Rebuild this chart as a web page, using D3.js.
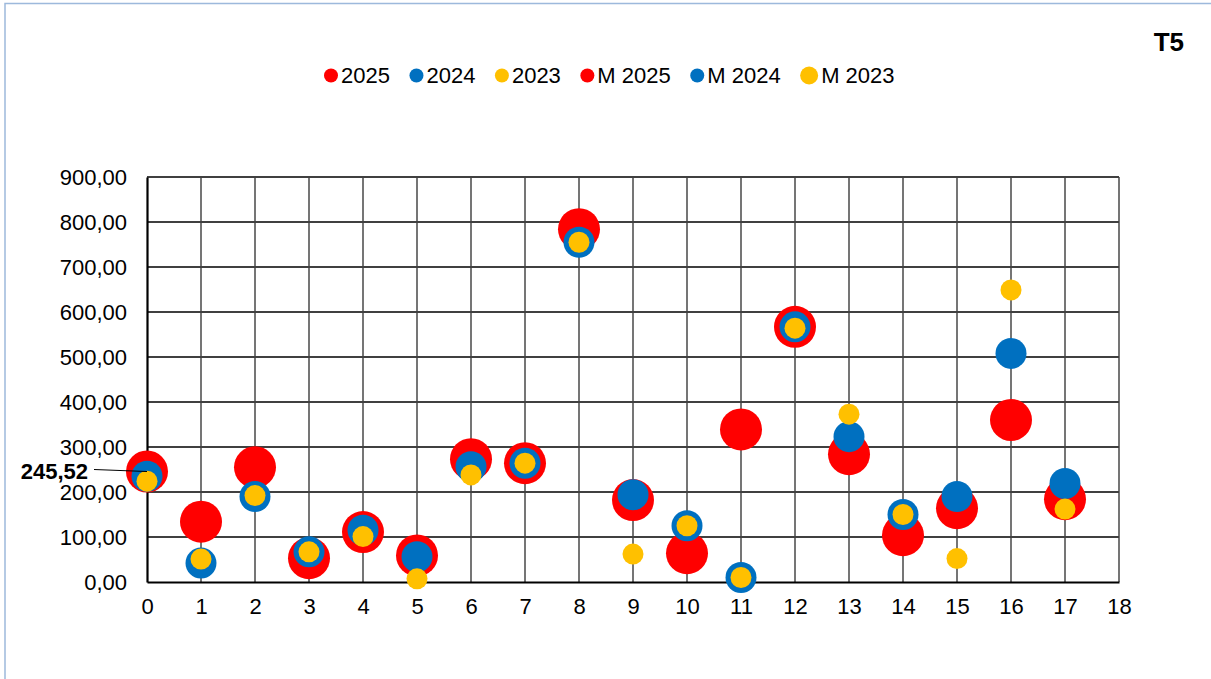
<!DOCTYPE html>
<html>
<head>
<meta charset="utf-8">
<script src="https://cdn.jsdelivr.net/npm/d3@7"></script>
<style>
    html, body { margin: 0; padding: 0; background: #fff; }
    svg { display: block; font-family: 'Liberation Sans', Arial, sans-serif; }
</style>
</head>
<body>
<div id="chart"></div>
<script>
// x positions 0..17
const categories = [0, 1, 2, 3, 4, 5, 6, 7, 8, 9, 10, 11, 12, 13, 14, 15, 16, 17];
const values2025 = [245.52, 134, 255, 53, 111, 59, 273, 264, 784, 182, 64, 339, 567, 284, 104, 164, 360, 184];
const values2024 = [235, 42, 190, 67, 115, 56, 256, 264, 755, 194, 125, 10, 567, 323, 150, 190, 508, 219];
const values2023 = [224, 51, 192, 67, 101, 7, 238, 264, 755, 62, 125, 10, 564, 373, 150, 52, 649, 162];
const legendLabels = ['2025', '2024', '2023', 'M 2025', 'M 2024', 'M 2023'];
const yTicks = [0, 100, 200, 300, 400, 500, 600, 700, 800, 900];
const xTicks = [0, 1, 2, 3, 4, 5, 6, 7, 8, 9, 10, 11, 12, 13, 14, 15, 16, 17, 18];

const width = 1211;
const height = 679;
const RED = '#ff0000';
const BLUE = '#0070c0';
const YELLOW = '#ffc000';

const locale = d3.formatLocale({ decimal: ',', thousands: '.', grouping: [3], currency: ['', ''] });
const fmt = locale.format('.2f');

const svg = d3
    .select('#chart')
    .append('svg')
    .attr('width', width)
    .attr('height', height);

// outer chart frame
svg.append('rect')
    .attr('x', 5)
    .attr('y', 3.5)
    .attr('width', width + 50)
    .attr('height', height + 50)
    .attr('fill', '#fff')
    .attr('stroke', '#9db9dc')
    .attr('stroke-width', 1.5);

const x = d3.scaleLinear().domain([0, 18]).range([147, 1119]);
const y = d3.scaleLinear().domain([0, 900]).range([582, 177]);

// grid
const grid = svg.append('g');
grid.selectAll('line.v')
    .data(xTicks.slice(1))
    .join('line')
    .attr('x1', d => x(d))
    .attr('x2', d => x(d))
    .attr('y1', y(0))
    .attr('y2', y(900))
    .attr('stroke', '#666')
    .attr('stroke-width', 1.8);
grid.selectAll('line.h')
    .data(yTicks.slice(1))
    .join('line')
    .attr('x1', x(0))
    .attr('x2', x(18))
    .attr('y1', d => y(d))
    .attr('y2', d => y(d))
    .attr('stroke', '#404040')
    .attr('stroke-width', 1.8);

// axes
const yAxis = svg.append('g')
    .attr('transform', `translate(${x(0)},0)`)
    .call(d3.axisLeft(y).tickValues(yTicks).tickFormat(fmt).tickSize(0).tickPadding(20));
const xAxis = svg.append('g')
    .attr('transform', `translate(0,${y(0)})`)
    .call(d3.axisBottom(x).tickValues(xTicks).tickFormat(d => d).tickSize(0).tickPadding(16));
[yAxis, xAxis].forEach(a => {
    a.select('.domain').attr('stroke', '#000').attr('stroke-width', 2.2);
    a.selectAll('text')
        .attr('font-family', "'Liberation Sans', Arial, sans-serif")
        .attr('font-size', 22)
        .attr('fill', '#000');
});
xAxis.selectAll('text').attr('dy', '0.71em');

// markers: biggest first
const series = [
    { values: values2025, color: RED, r: 21 },
    { values: values2024, color: BLUE, r: 15.5 },
    { values: values2023, color: YELLOW, r: 10.5 },
];
series.forEach(s => {
    svg.append('g')
        .selectAll('circle')
        .data(categories)
        .join('circle')
        .attr('cx', d => x(d))
        .attr('cy', (d, i) => y(s.values[i]))
        .attr('r', s.r)
        .attr('fill', s.color);
});

// data label for the first point
svg.append('line')
    .attr('x1', 94)
    .attr('y1', 469.5)
    .attr('x2', x(categories[0]))
    .attr('y2', y(values2025[0]))
    .attr('stroke', '#000')
    .attr('stroke-width', 1);
svg.append('text')
    .attr('x', 88)
    .attr('y', 471.5)
    .attr('dy', '0.35em')
    .attr('text-anchor', 'end')
    .attr('font-size', 22)
    .attr('font-weight', 'bold')
    .text(fmt(values2025[0]));

// title
svg.append('text')
    .attr('x', 1184)
    .attr('y', 42)
    .attr('dy', '0.35em')
    .attr('text-anchor', 'end')
    .attr('font-size', 26)
    .attr('font-weight', 'bold')
    .text('T5');

// legend
const legendColors = [RED, BLUE, YELLOW, RED, BLUE, YELLOW];
const legendR = [7, 7, 7, 7, 7, 9];
const legend = svg.append('g');
let lx = 324;
legendLabels.forEach((lab, i) => {
    const r = legendR[i];
    legend.append('circle')
        .attr('cx', lx + r)
        .attr('cy', 75.5)
        .attr('r', r)
        .attr('fill', legendColors[i]);
    const t = legend.append('text')
        .attr('x', lx + 2 * r + 3)
        .attr('y', 75.5)
        .attr('dy', '0.35em')
        .attr('font-size', 22)
        .text(lab);
    lx = lx + 2 * r + 3 + t.node().getComputedTextLength() + 19.5;
});
</script>
</body>
</html>
